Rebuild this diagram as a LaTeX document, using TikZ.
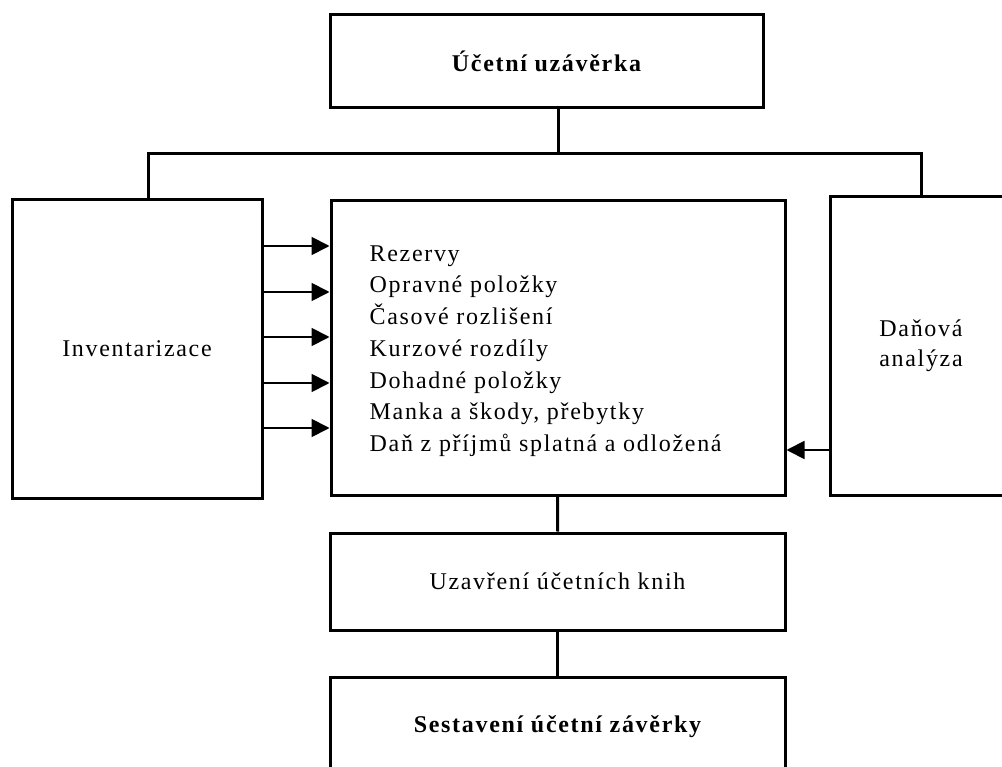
\documentclass[tikz,border=0pt]{standalone}
\usepackage{fontspec}
\setmainfont[LetterSpace=7]{Liberation Serif}
\usetikzlibrary{arrows.meta,positioning}
\tikzset{
  every picture/.append style={line join=miter},
  uz box/.style={draw,line width=3pt,inner sep=0pt,align=center,font=\fontsize{24}{30}\selectfont},
  uz title/.style={uz box,font=\fontsize{24}{30}\selectfont\bfseries},
  uz link/.style={line width=3pt},
  uz arrow/.style={line width=1.8pt,-{Triangle[length=18pt,width=18pt]}},
  uz list/.style={font=\fontsize{24}{31.7}\selectfont,align=left,anchor=west,inner sep=0pt}
}
\begin{document}
\begin{tikzpicture}[x=1pt,y=-1pt]
  \useasboundingbox (0,0) rectangle (1002,767);
  \clip (0,0) rectangle (1002,767);
  % boxes
  \node[uz title,minimum width=433pt,minimum height=93pt] (zaverka) at (546.5,61.5) {Účetní uzávěrka};
  \node[uz box,minimum width=250pt,minimum height=298pt] (inv) at (137,349) {Inventarizace};
  \node[uz box,minimum width=454pt,minimum height=294pt] (seznam) at (558,348) {};
  \node[uz box,minimum width=182pt,minimum height=298pt] (dan) at (921,346) {Daňová\\analýza};
  \node[uz box,minimum width=455pt,minimum height=97pt] (knihy) at (557.5,581.5) {Uzavření účetních knih};
  \node[uz title,minimum width=455pt,minimum height=100pt] (sestaveni) at (557.5,727) {Sestavení účetní závěrky};
  \node[uz list] (polozky) at ([xshift=40pt,yshift=-3pt]seznam.west) {Rezervy\\Opravné položky\\Časové rozlišení\\Kurzové rozdíly\\Dohadné položky\\Manka a škody, přebytky\\Daň z příjmů splatná a odložená};
  % links
  \draw[uz link] (zaverka.south -| seznam.north) -- (seznam.north |- 0,154);
  \draw[uz link] ([xshift=11pt]inv.north) |- (dan.north |- 0,154) -- (dan.north);
  \draw[uz link] (seznam) -- (knihy);
  \draw[uz link] (knihy) -- (sestaveni);
  % arrows
  \foreach \y in {246,292,337,383,428}
    \draw[uz arrow] (inv.east |- 0,\y) -- (seznam.west |- 0,\y);
  \draw[uz arrow] (dan.west |- 0,450) -- (seznam.east |- 0,450);
\end{tikzpicture}
\end{document}
